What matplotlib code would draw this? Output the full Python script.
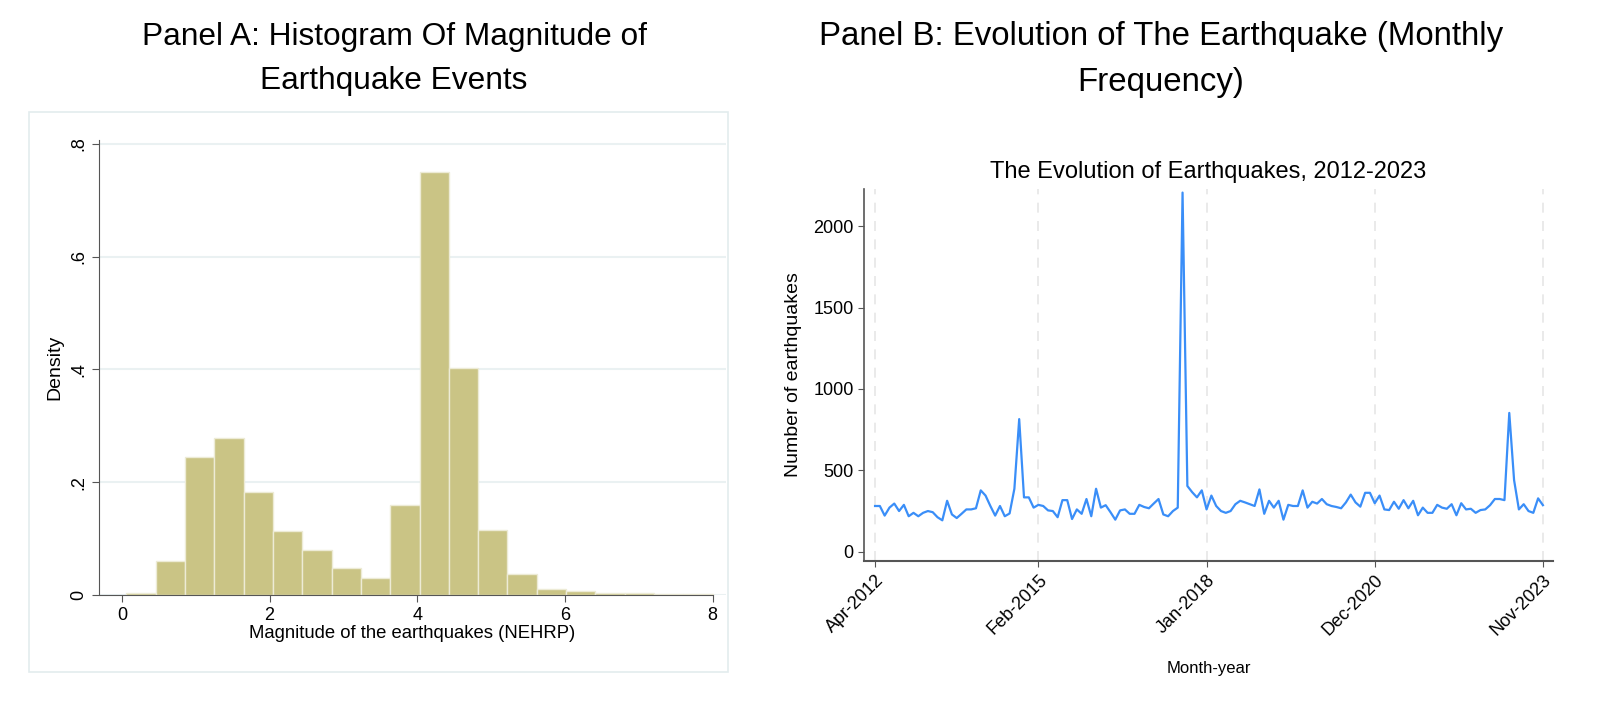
import matplotlib
matplotlib.use("Agg")
import matplotlib.pyplot as plt
import matplotlib.patches as patches
import numpy as np
import pandas as pd

plt.rcParams['font.family'] = ['Liberation Sans', 'DejaVu Sans']

# Panel A: histogram of magnitudes (density per bin)
bin_start = 0.06
bin_width = 0.397
density = [0.003, 0.061, 0.245, 0.278, 0.182, 0.114, 0.080, 0.048, 0.031, 0.159,
           0.750, 0.402, 0.116, 0.037, 0.010, 0.007, 0.003, 0.003, 0.002, 0.002]

# Panel B: monthly number of earthquakes, Apr-2012 .. Nov-2023
counts = [281, 281, 222, 271, 296, 250, 288, 218, 239, 218,
          239, 250, 243, 212, 193, 313, 229, 207, 233, 260,
          260, 267, 377, 345, 281, 222, 281, 218, 235, 387,
          815, 334, 334, 271, 288, 281, 254, 250, 212, 317,
          317, 201, 260, 233, 324, 218, 387, 271, 286, 243,
          197, 254, 260, 233, 233, 288, 275, 267, 296, 324,
          229, 218, 250, 271, 2207, 404, 366, 334, 377, 260,
          345, 281, 250, 239, 250, 292, 313, 303, 292, 281,
          383, 233, 313, 271, 313, 197, 288, 281, 281, 377,
          271, 307, 296, 324, 292, 281, 275, 267, 303, 351,
          303, 277, 362, 362, 298, 345, 260, 256, 307, 264,
          317, 267, 313, 224, 271, 239, 239, 288, 271, 264,
          292, 224, 298, 260, 264, 239, 256, 260, 286, 324,
          324, 317, 853, 440, 260, 292, 250, 239, 328, 286]
months = pd.date_range('2012-04-01', periods=len(counts), freq='MS')
month_labels = months.strftime('%b-%Y')
tick_idx = [0, 34, 69, 104, 139]

W, H = 1604, 717
fig = plt.figure(figsize=(W / 100, H / 100), dpi=100)

# --- Panel titles
fig.text(394 / W, 1 - 37 / H, "Panel A: Histogram Of Magnitude of", ha='center', va='center', fontsize=22.8)
fig.text(394 / W, 1 - 81 / H, "Earthquake Events", ha='center', va='center', fontsize=22.8)
fig.text(1161 / W, 1 - 37 / H, "Panel B: Evolution of The Earthquake (Monthly", ha='center', va='center', fontsize=23.8)
fig.text(1161 / W, 1 - 83 / H, "Frequency)", ha='center', va='center', fontsize=23.8)

# --- Panel A frame
fig.patches.append(patches.Rectangle((29 / W, 1 - 672 / H), 699 / W, 560 / H, transform=fig.transFigure,
                                     fill=False, edgecolor='#E3ECEE', lw=1.2))

ax1 = fig.add_axes([99 / W, 1 - 595 / H, 627 / W, 455 / H])
edges = bin_start + bin_width * np.arange(len(density))
ax1.bar(edges, density, width=bin_width, align='edge', color='#CAC485', edgecolor='#EDEBD6', linewidth=1.0, zorder=2)
ax1.set_xlim(-0.31, 8.18)
ax1.set_ylim(0, 0.807)
ax1.set_yticks([0, 0.2, 0.4, 0.6, 0.8])
ax1.set_yticklabels(['0', '.2', '.4', '.6', '.8'], rotation=90, va='center')
ax1.set_xticks([0, 2, 4, 6, 8])
ax1.grid(axis='y', color='#EAF1F2', lw=1.5, zorder=0)
ax1.set_axisbelow(True)
for s in ['top', 'right']:
    ax1.spines[s].set_visible(False)
ax1.spines['left'].set_color('#555555')
ax1.spines['bottom'].set_color('#555555')
ax1.spines['bottom'].set_bounds(-0.3, 8)
ax1.tick_params(labelsize=13, color='#555555', length=5)
ax1.set_xlabel("Magnitude of the earthquakes (NEHRP)", fontsize=13.3, labelpad=1)
ax1.set_ylabel("Density", fontsize=14, labelpad=5)

# --- Panel B
ax2 = fig.add_axes([864 / W, 1 - 561 / H, 689 / W, 372 / H])
x = np.arange(len(counts))
ax2.plot(x, counts, color='#3A8EF8', lw=1.6, zorder=3)
ax2.set_xlim(-2.3, 141.1)
ax2.set_ylim(-57, 2229)
ax2.set_xticks(tick_idx)
ax2.set_xticklabels([month_labels[i] for i in tick_idx], rotation=45, ha='right', rotation_mode='anchor')
ax2.set_yticks([0, 500, 1000, 1500, 2000])
for t in tick_idx:
    ax2.axvline(t, color='#E6E6E6', lw=1.2, ls=(0, (6, 5)), zorder=1)
for s in ['top', 'right']:
    ax2.spines[s].set_visible(False)
ax2.spines['left'].set_color('#555555')
ax2.spines['bottom'].set_color('#555555')
ax2.spines['left'].set_linewidth(1.2)
ax2.spines['bottom'].set_linewidth(1.5)
ax2.tick_params(axis='y', labelsize=13, color='#555555', length=4)
ax2.tick_params(axis='x', labelsize=13, color='#555555', length=4)
ax2.set_title("The Evolution of Earthquakes, 2012-2023", fontsize=17, pad=8)
ax2.set_xlabel("Month-year", fontsize=12, labelpad=16)
ax2.set_ylabel("Number of earthquakes", fontsize=14, labelpad=8)

fig.savefig("out.png", dpi=100)
